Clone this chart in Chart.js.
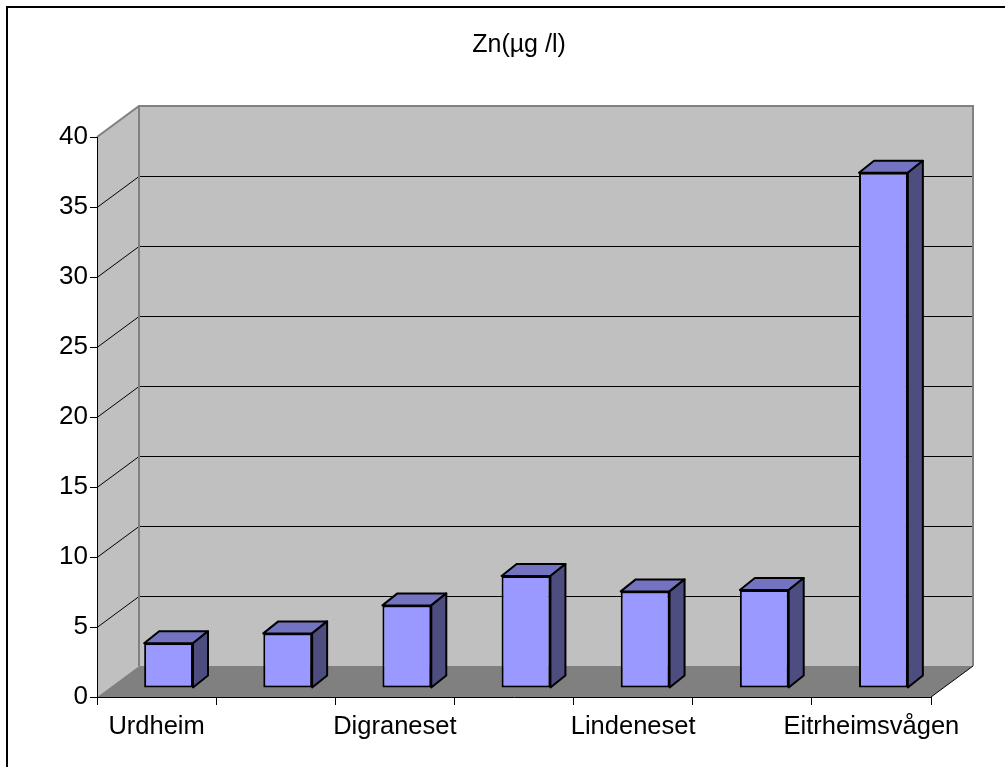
<!DOCTYPE html>
<html>
<head>
<meta charset="utf-8">
<title>Zn(µg /l)</title>
<script src="https://cdn.jsdelivr.net/npm/chart.js@4.4.0/dist/chart.umd.min.js"></script>
<style>
  html, body { margin: 0; padding: 0; background: #fff; }
  canvas { display: block; }
</style>
</head>
<body>
<canvas id="znChart" width="1005" height="767"></canvas>
<script>
// data (hidden labels were not printed on the axis)
const titleText = "Zn(µg /l)";
const stations = ["Urdheim", "", "Digraneset", "", "Lindeneset", "", "Eitrheimsvågen"];
const znValues = [3.2, 3.9, 5.9, 8.0, 6.9, 7.0, 36.8];
const yTicks = [0, 5, 10, 15, 20, 25, 30, 35, 40];

const FONT = '"Liberation Sans", Arial, sans-serif';

// depth of the 3d box (back wall offset) and of the bars
const WALL_DX = 42, WALL_DY = -31;
const BAR_SHIFT_X = 12, BAR_SHIFT_Y = -9;
const BAR_DX = 15, BAR_DY = -12;

const box3d = {
  id: "box3d",
  beforeDraw(chart) {
    const ctx = chart.ctx;
    const { left, right, top, bottom } = chart.chartArea;
    const yScale = chart.scales.y;

    ctx.save();
    ctx.fillStyle = "#ffffff";
    ctx.fillRect(0, 0, chart.width, chart.height);

    // outer frame
    ctx.strokeStyle = "#000";
    ctx.lineWidth = 2;
    ctx.strokeRect(7, 7, chart.width, chart.height);

    // back wall
    ctx.fillStyle = "#c0c0c0";
    ctx.fillRect(left + WALL_DX, top + WALL_DY, right - left, bottom - top);

    // left wall
    ctx.beginPath();
    ctx.moveTo(left, top);
    ctx.lineTo(left + WALL_DX, top + WALL_DY);
    ctx.lineTo(left + WALL_DX, bottom + WALL_DY);
    ctx.lineTo(left, bottom);
    ctx.closePath();
    ctx.fill();

    // floor
    ctx.fillStyle = "#808080";
    ctx.beginPath();
    ctx.moveTo(left, bottom);
    ctx.lineTo(left + WALL_DX, bottom + WALL_DY);
    ctx.lineTo(right + WALL_DX, bottom + WALL_DY);
    ctx.lineTo(right, bottom);
    ctx.closePath();
    ctx.fill();

    // grid lines on left and back wall
    ctx.strokeStyle = "#000";
    ctx.lineWidth = 1;
    yTicks.forEach(v => {
      if (v === yTicks[0] || v === yTicks[yTicks.length - 1]) return;
      const py = Math.round(yScale.getPixelForValue(v)) + 0.5;
      ctx.beginPath();
      ctx.moveTo(left, py);
      ctx.lineTo(left + WALL_DX, py + WALL_DY);
      ctx.lineTo(right + WALL_DX, py + WALL_DY);
      ctx.stroke();
    });

    // wall edges
    ctx.strokeStyle = "#808080";
    ctx.lineWidth = 2;
    ctx.beginPath();
    ctx.moveTo(left, top);
    ctx.lineTo(left + WALL_DX, top + WALL_DY);
    ctx.lineTo(right + WALL_DX, top + WALL_DY);
    ctx.lineTo(right + WALL_DX, bottom + WALL_DY);
    ctx.moveTo(left + WALL_DX, top + WALL_DY);
    ctx.lineTo(left + WALL_DX, bottom + WALL_DY);
    ctx.stroke();

    // right edge of the floor
    ctx.strokeStyle = "#000";
    ctx.lineWidth = 1;
    ctx.beginPath();
    ctx.moveTo(right, bottom);
    ctx.lineTo(right + WALL_DX, bottom + WALL_DY);
    ctx.stroke();

    // title
    ctx.fillStyle = "#000";
    ctx.font = "25px " + FONT;
    ctx.textAlign = "center";
    ctx.textBaseline = "alphabetic";
    ctx.fillText(titleText, 519, 52);
    ctx.restore();
  },
  beforeDatasetsDraw(chart) {
    chart.ctx.save();
    chart.ctx.translate(BAR_SHIFT_X, BAR_SHIFT_Y);
  },
  afterDatasetsDraw(chart) {
    const ctx = chart.ctx;
    const bars = chart.getDatasetMeta(0).data;
    ctx.lineWidth = 2;
    ctx.lineJoin = "round";
    ctx.strokeStyle = "#000";
    bars.forEach(bar => {
      const p = bar.getProps(["x", "y", "base", "width"], true);
      const l = p.x - p.width / 2, r = p.x + p.width / 2;
      const t = p.y, b = p.base;
      // top face
      ctx.fillStyle = "#7373c2";
      ctx.beginPath();
      ctx.moveTo(l, t);
      ctx.lineTo(l + BAR_DX, t + BAR_DY);
      ctx.lineTo(r + BAR_DX, t + BAR_DY);
      ctx.lineTo(r, t);
      ctx.closePath();
      ctx.fill();
      ctx.stroke();
      // side face
      ctx.fillStyle = "#4d4d80";
      ctx.beginPath();
      ctx.moveTo(r, t);
      ctx.lineTo(r + BAR_DX, t + BAR_DY);
      ctx.lineTo(r + BAR_DX, b + BAR_DY);
      ctx.lineTo(r, b);
      ctx.closePath();
      ctx.fill();
      ctx.stroke();
    });
    ctx.restore();
  }
};

new Chart(document.getElementById("znChart"), {
  type: "bar",
  data: {
    labels: stations,
    datasets: [{
      label: titleText,
      data: znValues,
      backgroundColor: "#9999ff",
      borderColor: "#000",
      borderWidth: 2,
      borderSkipped: false,
      barPercentage: 0.41,
      categoryPercentage: 1,
      clip: false
    }]
  },
  options: {
    responsive: false,
    animation: false,
    devicePixelRatio: 1,
    layout: { padding: { top: 137, right: 74, left: 0, bottom: 0 } },
    plugins: {
      legend: { display: false },
      title: { display: false },
      tooltip: { enabled: false }
    },
    scales: {
      x: {
        afterFit(scale) { scale.height = 70; },
        grid: { drawOnChartArea: false, drawTicks: true, tickLength: 8, color: "#000", offset: true },
        border: { display: true, color: "#000", width: 1 },
        ticks: {
          autoSkip: false, maxRotation: 0, padding: 7,
          color: "#000", font: { family: FONT, size: 25.5 }
        }
      },
      y: {
        min: 0,
        max: 40,
        afterFit(scale) { scale.width = 97; },
        afterBuildTicks(scale) { scale.ticks = yTicks.map(v => ({ value: v })); },
        grid: { drawOnChartArea: false, drawTicks: true, tickLength: 7, color: "#000" },
        border: { display: true, color: "#000", width: 1 },
        ticks: { padding: 2, color: "#000", font: { family: FONT, size: 26 } }
      }
    }
  },
  plugins: [box3d]
});
</script>
</body>
</html>
